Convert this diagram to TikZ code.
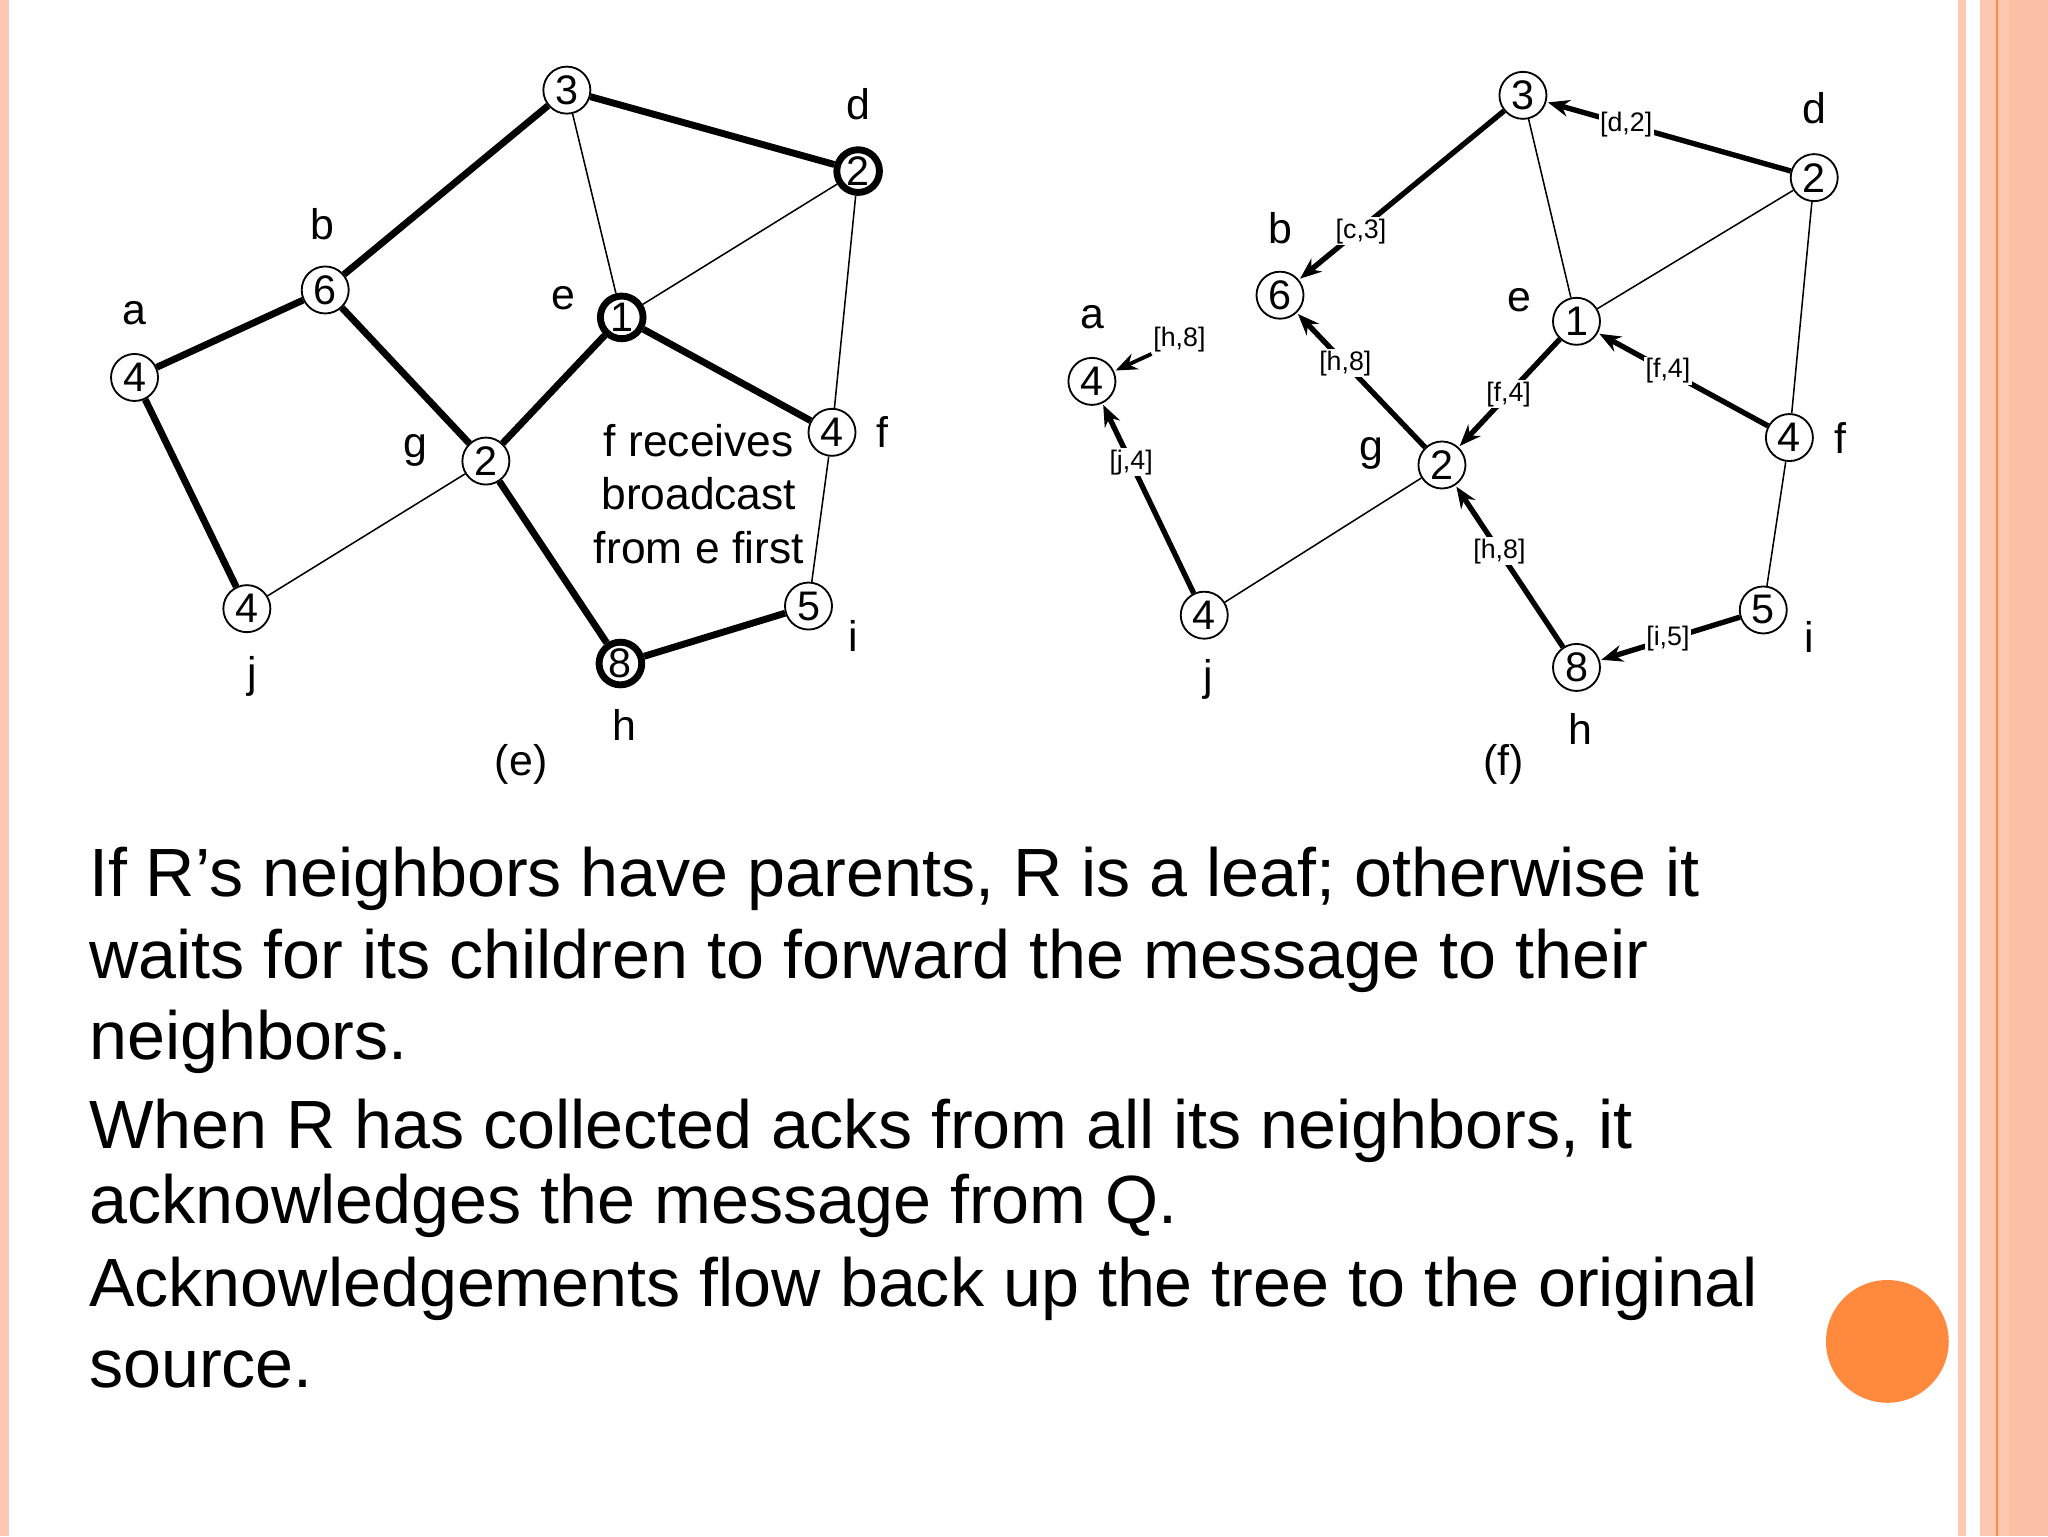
\documentclass[tikz,border=0pt]{standalone}
\usepackage{fontspec}
\setmainfont{Liberation Sans}
\usetikzlibrary{arrows.meta}
\definecolor{salm}{HTML}{FDC9B3}
\definecolor{salm2}{HTML}{FBC0A6}
\definecolor{orng}{HTML}{FF8A3D}
\tikzset{
 x=0.03cm,y=-0.03cm,
 nd/.style={circle,draw,line width=1.2pt,fill=white,inner sep=0pt,minimum size=1.08cm,font=\fontsize{27}{27}\selectfont},
 ndk/.style={nd,line width=4.5pt,minimum size=0.98cm},
 lt/.style={font=\fontsize{28}{28}\selectfont},
 thk/.style={line width=4.5pt},
 thn/.style={line width=1pt},
 ar/.style={line width=3.5pt,-{Stealth[length=14pt,width=11pt]},shorten >=1pt},
 lb/.style={fill=white,inner sep=1pt,font=\fontsize{17.5}{17.5}\selectfont},
 body/.style={anchor=base west,inner sep=0pt,font=\fontsize{44.6}{44.6}\selectfont}
}
\begin{document}
\begin{tikzpicture}
\useasboundingbox (0,0) rectangle (1568,1176);
\fill[white] (0,0) rectangle (1568,1176);
\fill[salm] (0,0) rectangle (7,1176);
\fill[salm] (1499,0) rectangle (1505,1176);
\fill[salm] (1516,0) rectangle (1568,1176);
\fill[salm2] (1538,0) rectangle (1568,1176);
\fill[orng] (1528,0) rectangle (1530,1176);
\fill[orng] (1445,1027) circle (47);
% (e)
\node[nd] (a) at (103,289) {4};
\node[nd] (b) at (249,222) {6};
\node[nd] (c) at (434,69) {3};
\node[ndk] (d) at (657,131) {2};
\node[ndk] (e) at (476,243) {1};
\node[nd] (f) at (637,331) {4};
\node[nd] (g) at (372,353) {2};
\node[nd] (j) at (189,466) {4};
\node[ndk] (h) at (475,508) {8};
\node[nd] (i) at (619,464) {5};
\node[lt] (la) at (103,240) {a};
\node[lt] (lb) at (247,172) {b};
\node[lt] (ld) at (657,80) {d};
\node[lt] (le) at (431,228) {e};
\node[lt] (lf) at (676,331) {f};
\node[lt] (lg) at (318,345) {g};
\node[lt] (lj) at (193,518) {j};
\node[lt] (lh) at (478,555) {h};
\node[lt] (li) at (653,487) {i};
\node[lt,align=center,font=\fontsize{29}{35}\selectfont] (txt) at (535,378) {f receives\\broadcast\\from e first};
\node[lt] (cap1) at (399,585) {(e)};
\draw[thk] (a)--(b) (b)--(c) (c)--(d) (b)--(g) (g)--(e) (e)--(f) (g)--(h) (h)--(i) (a)--(j);
\draw[thn] (c)--(e) (e)--(d) (d)--(f) (f)--(i) (j)--(g);
% (f)
\node[nd] (A) at (836,292) {4};
\node[nd] (B) at (980,226) {6};
\node[nd] (C) at (1166,73) {3};
\node[nd] (D) at (1389,136) {2};
\node[nd] (E) at (1207,246) {1};
\node[nd] (F) at (1370,335) {4};
\node[nd] (G) at (1104,356) {2};
\node[nd] (J) at (922,471) {4};
\node[nd] (H) at (1207,511) {8};
\node[nd] (I) at (1350,467) {5};
\node[lt] (LA) at (836,243) {a};
\node[lt] (LB) at (980,175) {b};
\node[lt] (LD) at (1389,83) {d};
\node[lt] (LE) at (1163,230) {e};
\node[lt] (LF) at (1409,335) {f};
\node[lt] (LG) at (1050,347) {g};
\node[lt] (LJ) at (925,520) {j};
\node[lt] (LH) at (1210,558) {h};
\node[lt] (LI) at (1385,488) {i};
\node[lt] (cap2) at (1151,585) {(f)};
\draw[thn] (C)--(E) (E)--(D) (D)--(F) (F)--(I) (J)--(G);
\draw[ar] (D)--(C); \draw[ar] (C)--(B); \draw[ar] (G)--(B); \draw[ar] (E)--(G);
\draw[ar] (F)--(E); \draw[ar] (H)--(G); \draw[ar] (I)--(H); \draw[ar] (J)--(A);
\node[lb] (l1) at (1245,95) {[d,2]};
\node[lb] (l2) at (1042,177) {[c,3]};
\node[lb] (l3) at (1030,278) {[h,8]};
\node[lb] (l4) at (1155,302) {[f,4]};
\node[lb] (l5) at (1277,284) {[f,4]};
\node[lb] (l6) at (1148,422) {[h,8]};
\node[lb] (l7) at (1277,489) {[i,5]};
\node[lb] (l8) at (866,354) {[j,4]};
\node[lb] (l9) at (903,260) {[h,8]};
\draw[ar,line width=2.5pt] (l9.south west)--(A);
% body text
\node[body] (t1) at (68,686) {If R’s neighbors have parents, R is a leaf; otherwise it};
\node[body] (t2) at (68,749) {waits for its children to forward the message to their};
\node[body] (t3) at (68,811) {neighbors.};
\node[body] (t4) at (68,879) {When R has collected acks from all its neighbors, it};
\node[body] (t5) at (68,937) {acknowledges the message from Q.};
\node[body] (t6) at (68,1000) {Acknowledgements flow back up the tree to the original};
\node[body] (t7) at (68,1062) {source.};
\end{tikzpicture}
\end{document}
